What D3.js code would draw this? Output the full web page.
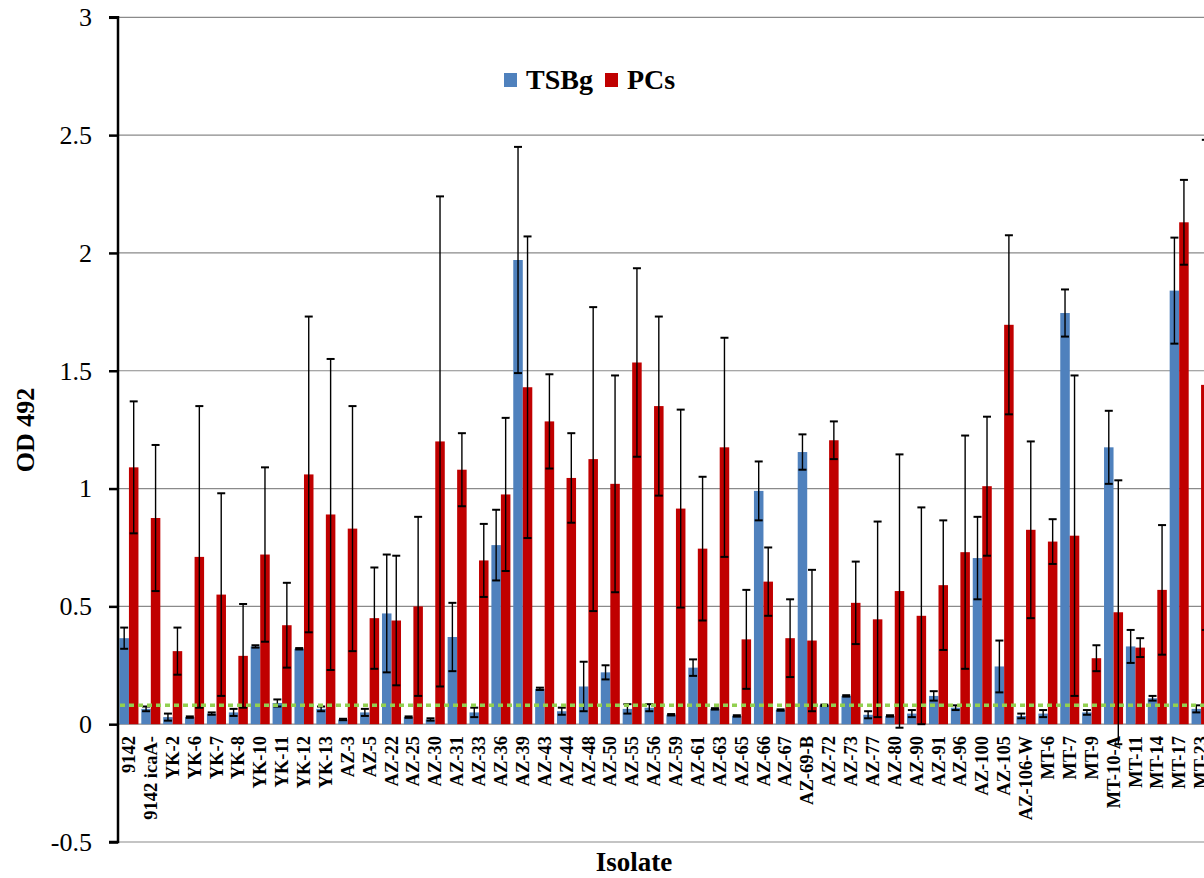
<!DOCTYPE html>
<html>
<head>
<meta charset="utf-8">
<script src="https://cdn.jsdelivr.net/npm/d3@7"></script>
<style>
  html, body { margin: 0; padding: 0; background: #fff; }
  svg { display: block; }
  svg text { font-family: "Liberation Serif", "Tinos", "Times New Roman", "DejaVu Serif", serif !important; }
</style>
</head>
<body>
<svg id="chart" width="1204" height="878"></svg>
<script>
const categories = ["9142","9142 icaA-","YK-2","YK-6","YK-7","YK-8","YK-10","YK-11","YK-12","YK-13",
  "AZ-3","AZ-5","AZ-22","AZ-25","AZ-30","AZ-31","AZ-33","AZ-36","AZ-39","AZ-43",
  "AZ-44","AZ-48","AZ-50","AZ-55","AZ-56","AZ-59","AZ-61","AZ-63","AZ-65","AZ-66",
  "AZ-67","AZ-69-B","AZ-72","AZ-73","AZ-77","AZ-80","AZ-90","AZ-91","AZ-96","AZ-100",
  "AZ-105","AZ-106-W","MT-6","MT-7","MT-9","MT-10-A","MT-11","MT-14","MT-17","MT-23"];

const seriesNames = ["TSBg", "PCs"];

const tsbg = [0.365,0.065,0.03,0.03,0.045,0.05,0.33,0.09,0.32,0.065,
  0.02,0.05,0.47,0.03,0.02,0.37,0.05,0.76,1.97,0.15,
  0.055,0.16,0.22,0.065,0.07,0.04,0.24,0.065,0.035,0.99,
  0.06,1.155,0.08,0.12,0.04,0.035,0.045,0.12,0.07,0.705,
  0.245,0.035,0.045,1.745,0.05,1.175,0.33,0.11,1.84,0.065];
const tsbgErr = [0.045,0.01,0.015,0.003,0.005,0.015,0.005,0.015,0.003,0.01,
  0.003,0.015,0.25,0.003,0.005,0.145,0.02,0.15,0.48,0.005,
  0.015,0.105,0.03,0.02,0.015,0.003,0.035,0.003,0.003,0.125,
  0.003,0.075,0.003,0.003,0.015,0.003,0.015,0.02,0.01,0.175,
  0.11,0.01,0.015,0.1,0.01,0.155,0.07,0.01,0.225,0.015];
const pcs = [1.09,0.875,0.31,0.71,0.55,0.29,0.72,0.42,1.06,0.89,
  0.83,0.45,0.44,0.5,1.2,1.08,0.695,0.975,1.43,1.285,
  1.045,1.125,1.02,1.535,1.35,0.915,0.745,1.175,0.36,0.605,
  0.365,0.355,1.205,0.515,0.445,0.565,0.46,0.59,0.73,1.01,
  1.695,0.825,0.775,0.8,0.28,0.475,0.325,0.57,2.13,1.44];
const pcsErr = [0.28,0.31,0.1,0.64,0.43,0.22,0.37,0.18,0.67,0.66,
  0.52,0.215,0.275,0.38,1.04,0.155,0.155,0.325,0.64,0.2,
  0.19,0.645,0.46,0.4,0.38,0.42,0.305,0.465,0.21,0.145,
  0.165,0.3,0.08,0.175,0.415,0.58,0.46,0.275,0.495,0.295,
  0.38,0.375,0.095,0.68,0.055,0.56,0.04,0.275,0.18,1.04];

const yTicks = [-0.5, 0, 0.5, 1, 1.5, 2, 2.5, 3];
const threshold = 0.08;

const colors = { TSBg: "#4f81bd", PCs: "#c00000" };
const serif = "'Liberation Serif', Tinos, 'Times New Roman', 'DejaVu Serif', serif";

const svg = d3.select("#chart");
const plotLeft = 118, plotTop = 17.3, plotBottom = 842;
const step = 21.88;
const plotRight = plotLeft + step * categories.length;

const x0 = d3.scaleBand().domain(categories).range([plotLeft, plotRight]).paddingInner(0).paddingOuter(0);
const x1 = d3.scaleBand().domain(seriesNames).range([0, x0.bandwidth()]).paddingInner(0).paddingOuter(0.15);
const y = d3.scaleLinear().domain([-0.5, 3]).range([plotBottom, plotTop]);

// gridlines
svg.append("g").selectAll("line").data(yTicks).join("line")
  .attr("x1", plotLeft).attr("x2", 1204)
  .attr("y1", d => y(d)).attr("y2", d => y(d))
  .attr("stroke", "#8a8a8a").attr("stroke-width", 1.2);

const rows = categories.map((c, i) => ({
  cat: c,
  vals: [
    { s: "TSBg", v: tsbg[i], e: tsbgErr[i] },
    { s: "PCs", v: pcs[i], e: pcsErr[i] }
  ]
}));

const groups = svg.append("g").selectAll("g").data(rows).join("g")
  .attr("transform", d => `translate(${x0(d.cat)},0)`);

groups.selectAll("rect").data(d => d.vals).join("rect")
  .attr("x", d => x1(d.s))
  .attr("width", x1.bandwidth())
  .attr("y", d => y(Math.max(0, d.v)))
  .attr("height", d => Math.abs(y(d.v) - y(0)))
  .attr("fill", d => colors[d.s]);

// error bars
const capW = 4;
const eb = groups.selectAll("g.eb").data(d => d.vals).join("g").attr("class", "eb")
  .attr("stroke", "#000").attr("stroke-width", 1.4);
eb.append("line")
  .attr("x1", d => x1(d.s) + x1.bandwidth() / 2).attr("x2", d => x1(d.s) + x1.bandwidth() / 2)
  .attr("y1", d => y(d.v + d.e)).attr("y2", d => y(d.v - d.e));
eb.append("line")
  .attr("x1", d => x1(d.s) + x1.bandwidth() / 2 - capW).attr("x2", d => x1(d.s) + x1.bandwidth() / 2 + capW)
  .attr("y1", d => y(d.v + d.e)).attr("y2", d => y(d.v + d.e)).attr("stroke-width", 2);
eb.append("line")
  .attr("x1", d => x1(d.s) + x1.bandwidth() / 2 - capW).attr("x2", d => x1(d.s) + x1.bandwidth() / 2 + capW)
  .attr("y1", d => y(d.v - d.e)).attr("y2", d => y(d.v - d.e)).attr("stroke-width", 2);

// threshold line
svg.append("line")
  .attr("x1", plotLeft + 2).attr("x2", 1204)
  .attr("y1", y(threshold)).attr("y2", y(threshold))
  .attr("stroke", "#92d050").attr("stroke-width", 3.5)
  .attr("stroke-dasharray", "5,4");

// y axis
const yAxis = d3.axisLeft(y).tickValues(yTicks).tickFormat(d => String(d)).tickSize(9).tickPadding(17);
const gy = svg.append("g").attr("transform", `translate(${plotLeft},0)`).call(yAxis)
  .attr("font-family", serif);
gy.select(".domain").attr("stroke", "#000").attr("stroke-width", 2.5).attr("d", `M-9,${y(3)}H0V${y(-0.5)}H-9`);
gy.selectAll(".tick line").attr("stroke", "#000").attr("stroke-width", 2.5);
gy.selectAll(".tick text").attr("font-size", 26).attr("fill", "#000")
  .attr("font-family", serif);

// x labels
svg.append("g").selectAll("text").data(categories).join("text")
  .attr("transform", d => `translate(${x0(d) + x0.bandwidth() / 2},736) rotate(-90)`)
  .attr("text-anchor", "end")
  .attr("dy", "0.33em")
  .attr("font-family", serif)
  .attr("font-size", 18.5)
  .attr("font-weight", "bold")
  .attr("fill", "#000")
  .text(d => d);

// axis titles
svg.append("text")
  .attr("x", 634).attr("y", 871)
  .attr("text-anchor", "middle")
  .attr("font-family", serif)
  .attr("font-size", 27).attr("font-weight", "bold")
  .text("Isolate");

svg.append("text")
  .attr("transform", "translate(34,430) rotate(-90)")
  .attr("text-anchor", "middle")
  .attr("font-family", serif)
  .attr("font-size", 26).attr("font-weight", "bold")
  .text("OD 492");

// legend
const legend = svg.append("g");
const legendItems = [
  { name: "TSBg", sx: 504, tx: 526 },
  { name: "PCs", sx: 605, tx: 627 }
];
legend.selectAll("rect").data(legendItems).join("rect")
  .attr("x", d => d.sx).attr("y", 73).attr("width", 13).attr("height", 14)
  .attr("fill", d => colors[d.name]);
legend.selectAll("text").data(legendItems).join("text")
  .attr("x", d => d.tx).attr("y", 89)
  .attr("font-family", serif)
  .attr("font-size", 28).attr("font-weight", "bold")
  .text(d => d.name);
</script>
</body>
</html>
